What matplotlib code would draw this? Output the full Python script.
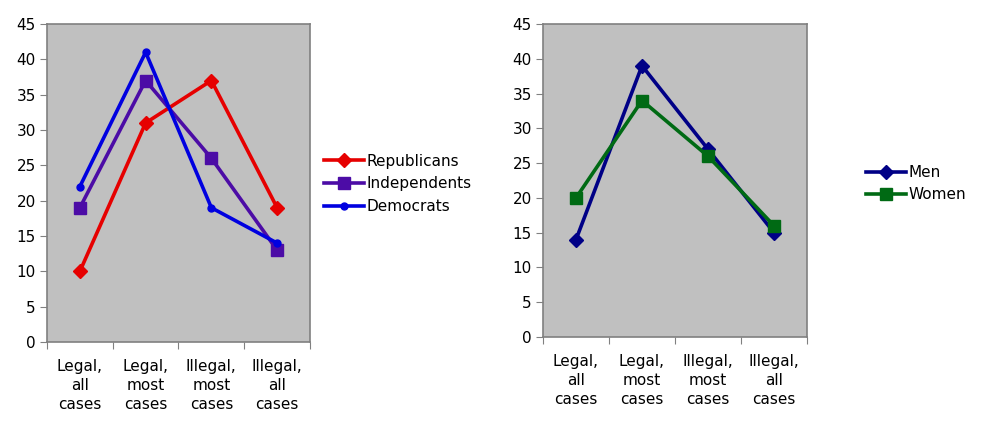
import matplotlib.pyplot as plt
import numpy as np

categories = ['Legal,\nall\ncases', 'Legal,\nmost\ncases', 'Illegal,\nmost\ncases', 'Illegal,\nall\ncases']

republicans = [10, 31, 37, 19]
independents = [19, 37, 26, 13]
democrats = [22, 41, 19, 14]

men = [14, 39, 27, 15]
women = [20, 34, 26, 16]

W, H = 982, 429
fig = plt.figure(figsize=(W / 100, H / 100), dpi=100)
plt.rcParams['font.family'] = 'DejaVu Sans'
font_size = 11


def make_axes(left, right, top, bottom):
    ax = fig.add_axes([left / W, 1 - bottom / H, (right - left) / W, (bottom - top) / H])
    ax.set_facecolor('#c0c0c0')
    for s in ax.spines.values():
        s.set_color('#808080')
        s.set_linewidth(1.2)
    x = np.arange(len(categories))
    ax.set_xlim(-0.5, len(categories) - 0.5)
    ax.set_ylim(0, 45)
    ax.set_yticks(range(0, 46, 5))
    ax.set_xticks(np.arange(-0.5, len(categories), 1.0))
    ax.set_xticklabels([])
    ax.set_xticks(x, minor=True)
    ax.set_xticklabels(categories, minor=True, fontsize=font_size, linespacing=1.35)
    ax.tick_params(axis='x', which='major', length=5, color='#808080', direction='out')
    ax.tick_params(axis='x', which='minor', length=0, pad=12)
    ax.tick_params(axis='y', length=5, color='#808080', direction='out', labelsize=font_size, pad=3)
    return ax, x


ax1, x = make_axes(47, 310, 24, 342)
ax1.plot(x, republicans, color='#e60000', lw=2.6, marker='D', ms=7, label='Republicans')
ax1.plot(x, independents, color='#4c0ca6', lw=2.6, marker='s', ms=8, label='Independents')
ax1.plot(x, democrats, color='#0000e0', lw=2.6, marker='o', ms=5, label='Democrats')
ax1.legend(loc='center left', bbox_to_anchor=(1.03, 0.497), frameon=False,
           fontsize=font_size, handlelength=2.6, handletextpad=0.2, labelspacing=0.5,
           borderaxespad=0)

ax2, x = make_axes(543, 807, 24, 337)
ax2.plot(x, men, color='#000086', lw=2.6, marker='D', ms=7, label='Men')
ax2.plot(x, women, color='#006a14', lw=2.6, marker='s', ms=8, label='Women')
ax2.legend(loc='center left', bbox_to_anchor=(1.2, 0.49), frameon=False,
           fontsize=font_size, handlelength=2.6, handletextpad=0.2, labelspacing=0.45,
           borderaxespad=0)

fig.savefig('out.png', dpi=100)
